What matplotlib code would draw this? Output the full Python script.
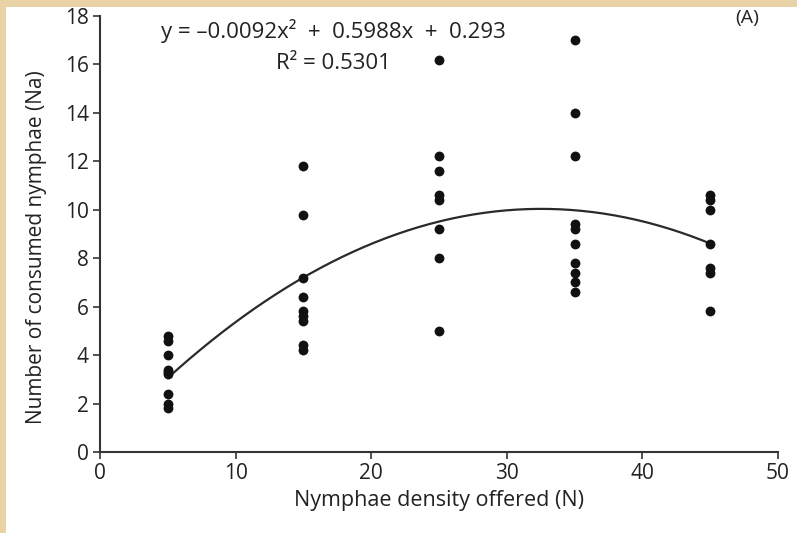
import numpy as np
import matplotlib.pyplot as plt
from matplotlib.patches import Rectangle

# offered density (N) and consumed nymphae (Na) per replicate
dens_5 = [4.8, 4.6, 4.0, 3.4, 3.3, 3.2, 2.4, 2.0, 1.8]
dens_15 = [11.8, 9.8, 7.2, 6.4, 5.8, 5.6, 5.4, 4.4, 4.2]
dens_25 = [16.2, 12.2, 11.6, 10.6, 10.4, 9.2, 8.0, 5.0]
dens_35 = [17.0, 14.0, 12.2, 9.4, 9.2, 8.6, 7.8, 7.4, 7.0, 6.6]
dens_45 = [10.6, 10.4, 10.0, 8.6, 7.6, 7.4, 5.8]
densities = [5, 15, 25, 35, 45]
groups = [dens_5, dens_15, dens_25, dens_35, dens_45]

# fitted quadratic shown on the chart
coef = [-0.0092, 0.5988, 0.293]

plt.rcParams['font.family'] = ['Open Sans', 'DejaVu Sans']

fig = plt.figure(figsize=(7.97, 5.33), dpi=100)
fig.patch.set_facecolor('#e9d3a6')
fig.add_artist(Rectangle((0.007, 0), 0.993, 0.987, transform=fig.transFigure,
                         facecolor='white', edgecolor='none', zorder=-5))

ax = fig.add_axes([0.1255, 0.152, 0.8505, 0.818])
ax.set_zorder(2)
ax.set_facecolor('white')

for d, vals in zip(densities, groups):
    ax.scatter([d] * len(vals), vals, s=50, color='#111111', zorder=3, linewidths=0)

xs = np.linspace(densities[0], densities[-1], 200)
ax.plot(xs, np.polyval(coef, xs), color='#2a2a2a', lw=1.6, zorder=2)

ax.set_xlim(0, 50)
ax.set_ylim(0, 18)
ax.set_xticks(range(0, 51, 10))
ax.set_yticks(range(0, 19, 2))
for s in ['top', 'right']:
    ax.spines[s].set_visible(False)
for s in ['left', 'bottom']:
    ax.spines[s].set_color('#333333')
    ax.spines[s].set_linewidth(1.5)
ax.tick_params(direction='out', length=5, width=1.2, color='#333333',
               labelsize=15, labelcolor='#222222', pad=3)

ax.set_xlabel('Nymphae density offered (N)', fontsize=15.5, color='#222222', labelpad=4)
ax.set_ylabel('Number of consumed nymphae (Na)', fontsize=15, color='#222222')
ax.yaxis.set_label_coords(-0.078, 0.47)

ax.text(17.2, 17.4, 'y = \u20130.0092x\u00b2  +  0.5988x  +  0.293', fontsize=16,
        color='#222222', ha='center', va='center')
ax.text(17.2, 16.05, 'R\u00b2 = 0.5301', fontsize=16, color='#222222',
        ha='center', va='center')
ax.text(48.6, 17.9, '(A)', fontsize=14, color='#222222', ha='right', va='center')

fig.savefig('out.png', dpi=100, facecolor=fig.get_facecolor())
